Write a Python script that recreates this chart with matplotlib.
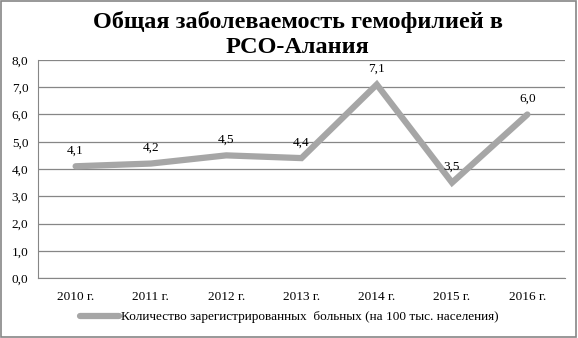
import matplotlib.pyplot as plt
from matplotlib.patches import Rectangle

years = ['2010 г.', '2011 г.', '2012 г.', '2013 г.', '2014 г.', '2015 г.', '2016 г.']
values = [4.1, 4.2, 4.5, 4.4, 7.1, 3.5, 6.0]
series_name = 'Количество зарегистрированных  больных (на 100 тыс. населения)'

plt.rcParams['font.family'] = ['Liberation Serif', 'DejaVu Serif']

fig = plt.figure(figsize=(5.78, 3.38), dpi=100)
ax = fig.add_axes([0.0657, 0.1775, 0.9118, 0.645])

x = list(range(len(years)))
ax.plot(x, values, color='#a6a6a6', linewidth=4.5, solid_capstyle='round',
        solid_joinstyle='miter', label=series_name, zorder=3)
for xi, v in zip(x, values):
    ax.annotate(('%.1f' % v).replace('.', ','), (xi, v), xytext=(0, 7),
                textcoords='offset points', ha='center', va='bottom', fontsize=9.5)

ax.set_xlim(-0.5, len(years) - 0.5)
ax.set_ylim(0, 8)
ax.set_yticks(range(0, 9))
ax.set_yticklabels([('%.1f' % t).replace('.', ',') for t in range(0, 9)], fontsize=9.5)
ax.set_xticks(x)
ax.set_xticklabels(years, fontsize=9.5)
ax.tick_params(axis='x', length=0, pad=9)
ax.tick_params(axis='y', length=0, pad=7)
ax.grid(axis='y', color='#868686', linewidth=0.9)
for s in ['top', 'right']:
    ax.spines[s].set_visible(False)
ax.spines['left'].set_color('#868686')
ax.spines['bottom'].set_color('#868686')

fig.text(0.515, 0.935, 'Общая заболеваемость гемофилией в', ha='center', va='center',
         fontsize=17.5, fontweight='bold')
fig.text(0.515, 0.858, 'РСО-Алания', ha='center', va='center',
         fontsize=17.5, fontweight='bold')

fig.legend(loc='center', bbox_to_anchor=(0.5, 0.062), frameon=False, fontsize=9.5,
           handlelength=3.0, handletextpad=0.1)

fig.patches.append(Rectangle((0.002, 0.003), 0.995, 0.993, transform=fig.transFigure,
                             fill=False, edgecolor='#868686', linewidth=1.2))

fig.savefig('out.png', dpi=100)
